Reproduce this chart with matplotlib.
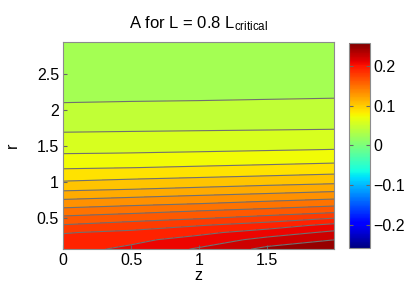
import numpy as np
import matplotlib
matplotlib.use('Agg')
import matplotlib.pyplot as plt
from matplotlib.cm import ScalarMappable
from matplotlib.colors import Normalize

plt.rcParams['font.family'] = ['Liberation Sans', 'DejaVu Sans']
plt.rcParams['mathtext.fontset'] = 'custom'
plt.rcParams['mathtext.rm'] = 'Liberation Sans'
plt.rcParams['mathtext.it'] = 'Liberation Sans'

# grid
z = [0.0, 0.5, 1.0, 1.5, 2.0]
r = [0.07, 0.2, 0.3, 0.4, 0.5, 0.6, 0.7, 0.8, 0.9, 1.0, 1.1, 1.2, 1.4, 1.6, 1.8, 2.1, 2.5, 2.95]

# A(r, z): rows follow r, columns follow z
A = [
    [0.195, 0.203, 0.217, 0.234, 0.240],
    [0.190, 0.1965, 0.2058, 0.220, 0.230],
    [0.184, 0.1885, 0.1964, 0.2068, 0.2185],
    [0.171, 0.177, 0.1842, 0.1923, 0.2045],
    [0.159, 0.1635, 0.1686, 0.1755, 0.185],
    [0.1455, 0.150, 0.155, 0.160, 0.1655],
    [0.1325, 0.1362, 0.140, 0.1447, 0.150],
    [0.1198, 0.1233, 0.127, 0.1307, 0.1345],
    [0.1072, 0.1099, 0.1131, 0.1167, 0.1205],
    [0.0961, 0.0989, 0.1015, 0.1042, 0.1068],
    [0.0871, 0.089, 0.0911, 0.0935, 0.0961],
    [0.0786, 0.0798, 0.0815, 0.0833, 0.0854],
    [0.0645, 0.0652, 0.0661, 0.0671, 0.0682],
    [0.0537, 0.0543, 0.0549, 0.0555, 0.0561],
    [0.0455, 0.0458, 0.0461, 0.0464, 0.0468],
    [0.0350, 0.0353, 0.0355, 0.0358, 0.0361],
    [0.0280, 0.0283, 0.0285, 0.0288, 0.0290],
    [0.0240, 0.0243, 0.0245, 0.0248, 0.0250],
]

levels = [0.015, 0.035, 0.05, 0.065, 0.08, 0.095, 0.11, 0.125, 0.14,
          0.155, 0.17, 0.185, 0.20, 0.215, 0.23, 0.26]
clim = 0.257
xticks = [0, 0.5, 1, 1.5]
yticks = [0.5, 1, 1.5, 2, 2.5]
cticks = [-0.2, -0.1, 0, 0.1, 0.2]

fig = plt.figure(figsize=(4.15, 2.9), dpi=100)
ax = fig.add_axes([0.152, 0.141, 0.653, 0.714])
cax = fig.add_axes([0.841, 0.145, 0.051, 0.707])

norm = Normalize(-clim, clim)
Z, R = np.meshgrid(z, r)
ax.contourf(Z, R, A, levels=levels, cmap='jet', norm=norm)
ax.contour(Z, R, A, levels=levels[1:-1], colors='#707070', linewidths=0.8)

ax.set_xlim(0, 1.99)
ax.set_ylim(0.07, 2.94)
ax.set_xticks(xticks)
ax.set_xticklabels(['0', '0.5', '1', '1.5'])
ax.set_yticks(yticks)
ax.set_yticklabels(['0.5', '1', '1.5', '2', '2.5'])
ax.tick_params(direction='in', length=3, labelsize=11.5, color='0.4', pad=3)
for s in ax.spines.values():
    s.set_color('0.55')
    s.set_linewidth(0.8)
ax.set_xlabel('z', fontsize=11.5, labelpad=0)
ax.set_ylabel('r', fontsize=11.5, labelpad=12)
ax.set_title('A for L = 0.8 L$_{\\mathrm{critical}}$', fontsize=12, pad=10)

sm = ScalarMappable(norm=norm, cmap='jet')
cb = fig.colorbar(sm, cax=cax)
cb.set_ticks(cticks)
cb.set_ticklabels(['\u22120.2', '\u22120.1', '0', '0.1', '0.2'])
cax.tick_params(direction='in', length=3, labelsize=11.5, color='0.4', pad=2,
                left=True, right=True)
cb.outline.set_edgecolor('0.55')
cb.outline.set_linewidth(0.8)

fig.savefig('out.png', dpi=100)
